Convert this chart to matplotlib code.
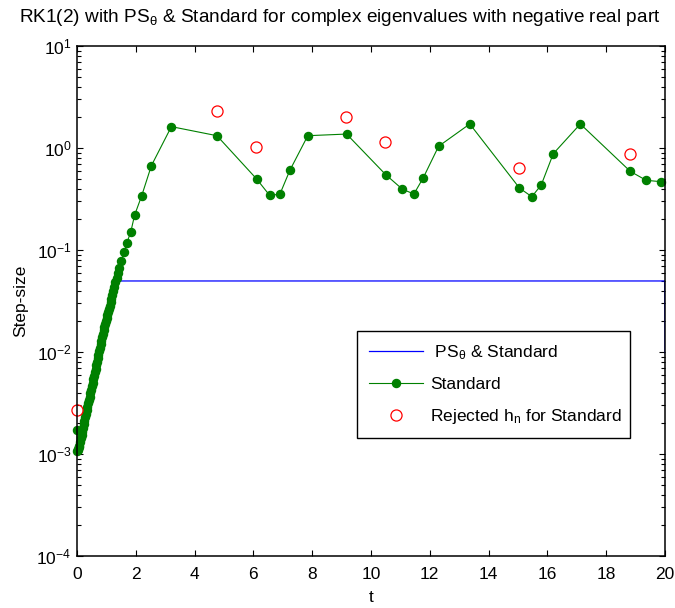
# -*- coding: utf-8 -*-
"""RK1(2) step-size history: PS_theta vs Standard controller (log y), saved to out.png."""
import matplotlib
matplotlib.use("Agg")
import matplotlib.pyplot as plt
from matplotlib.ticker import LogLocator, NullFormatter

plt.rcParams["font.family"] = ["Liberation Sans", "DejaVu Sans"]
plt.rcParams["mathtext.fontset"] = "custom"
plt.rcParams["mathtext.rm"] = "Liberation Sans"
plt.rcParams["mathtext.it"] = "Liberation Sans"
plt.rcParams["mathtext.bf"] = "Liberation Sans:bold"

# Standard controller: accepted steps (t_n, h_n)
STD_T = [0.000, 0.004, 0.020, 0.040, 0.060, 0.080, 0.105, 0.130, 0.155, 0.180,
         0.205, 0.230, 0.255, 0.280, 0.305, 0.330, 0.355, 0.380, 0.405, 0.430,
         0.455, 0.480, 0.505, 0.530, 0.555, 0.580, 0.605, 0.630, 0.655, 0.680,
         0.705, 0.730, 0.755, 0.780, 0.805, 0.830, 0.855, 0.880, 0.905, 0.930,
         0.955, 0.980, 1.005, 1.030, 1.055, 1.080, 1.110, 1.140, 1.170, 1.200,
         1.235, 1.270, 1.305, 1.345, 1.385,
         1.44, 1.50, 1.60, 1.69, 1.83, 1.96, 2.20, 2.53, 3.21, 4.76,
         6.11, 6.55, 6.90, 7.24, 7.85, 9.17, 10.50, 11.07, 11.46, 11.78,
         12.30, 13.36, 15.05, 15.47, 15.79, 16.20, 17.12, 18.82, 19.36, 19.85]
STD_H = [1.70e-3, 1.07e-3, 1.10e-3, 1.13e-3, 1.16e-3, 1.21e-3, 1.31e-3, 1.42e-3, 1.53e-3, 1.66e-3,
         1.80e-3, 1.95e-3, 2.10e-3, 2.28e-3, 2.47e-3, 2.67e-3, 2.89e-3, 3.13e-3, 3.38e-3, 3.66e-3,
         3.96e-3, 4.28e-3, 4.63e-3, 5.01e-3, 5.42e-3, 5.87e-3, 6.35e-3, 6.87e-3, 7.43e-3, 8.05e-3,
         8.71e-3, 9.42e-3, 1.02e-2, 1.10e-2, 1.19e-2, 1.29e-2, 1.40e-2, 1.51e-2, 1.64e-2, 1.77e-2,
         1.87e-2, 2.00e-2, 2.14e-2, 2.29e-2, 2.45e-2, 2.62e-2, 2.84e-2, 3.08e-2, 3.34e-2, 3.62e-2,
         3.98e-2, 4.38e-2, 4.81e-2, 5.36e-2, 5.97e-2,
         0.066, 0.0776, 0.095, 0.116, 0.151, 0.220, 0.340, 0.671, 1.62, 1.32,
         0.497, 0.344, 0.352, 0.604, 1.32, 1.37, 0.548, 0.394, 0.354, 0.512,
         1.04, 1.72, 0.405, 0.333, 0.434, 0.879, 1.72, 0.590, 0.482, 0.468]

# rejected step attempts of the Standard controller
REJ_T = [0.0, 4.75, 6.09, 9.15, 10.49, 15.03, 18.80]
REJ_H = [2.7e-3, 2.31, 1.02, 2.01, 1.14, 0.637, 0.867]

# PS_theta: follows Standard until it saturates, then constant step, last step cut at t=20
PS_CAP = 0.0497
PS_END_T = [1.32, 19.99, 20.0]
PS_END_H = [0.0497, 0.0497, 0.0098]

XTICKS = list(range(0, 21, 2))
TITLE = r"RK1(2) with PS$_{\theta}$ & Standard for complex eigenvalues with negative real part"

FS = 12.5

fig = plt.figure(figsize=(6.75, 6.08), dpi=100)
ax = fig.add_axes([77 / 675, 1 - 556 / 608, 588 / 675, 510 / 608])

ps_t = [t for t, h in zip(STD_T[1:], STD_H[1:]) if h < PS_CAP] + PS_END_T
ps_h = [h for h in STD_H[1:] if h < PS_CAP] + PS_END_H

ax.plot(ps_t, ps_h, "-", color="#0000ff", lw=0.9, label=r" PS$_{\theta}$ & Standard")
ax.plot(STD_T, STD_H, "-o", color="#008000", lw=0.8, ms=5.8, mec="#008000", mfc="#008000",
        label="Standard", clip_on=False)
ax.plot(REJ_T, REJ_H, "o", ms=8, mfc="none", mec="#ff0000", mew=0.9,
        label=r"Rejected h$_n$ for Standard", clip_on=False)

ax.set_yscale("log")
ax.set_xlim(0, 20)
ax.set_ylim(1e-4, 10)
ax.set_xticks(XTICKS)
ax.yaxis.set_major_locator(LogLocator(base=10, numticks=10))
ax.yaxis.set_minor_locator(LogLocator(base=10, subs=range(2, 10), numticks=20))
ax.yaxis.set_minor_formatter(NullFormatter())
ax.tick_params(which="both", direction="in", top=True, right=True, labelsize=FS, width=0.8)
ax.tick_params(axis="x", which="major", length=4.5, pad=8)
ax.tick_params(axis="y", which="major", length=4.5, pad=4)
ax.tick_params(which="minor", length=3)
for s in ax.spines.values():
    s.set_linewidth(1.1)

ax.set_xlabel("t", fontsize=FS, labelpad=6)
ax.set_ylabel("Step-size", fontsize=FS, labelpad=6)
fig.text(340 / 675, 1 - 22 / 608, TITLE, ha="center", va="baseline", fontsize=13.7)

leg = ax.legend(loc="upper left", bbox_to_anchor=(0.476, 0.231, 0.464, 0.21), mode="expand",
                borderaxespad=0, fancybox=False, edgecolor="black", framealpha=1,
                fontsize=FS, handlelength=3.1, handletextpad=0.4, labelspacing=0.85,
                borderpad=0.7)
leg.get_frame().set_linewidth(1.0)

fig.savefig("out.png", dpi=100)
